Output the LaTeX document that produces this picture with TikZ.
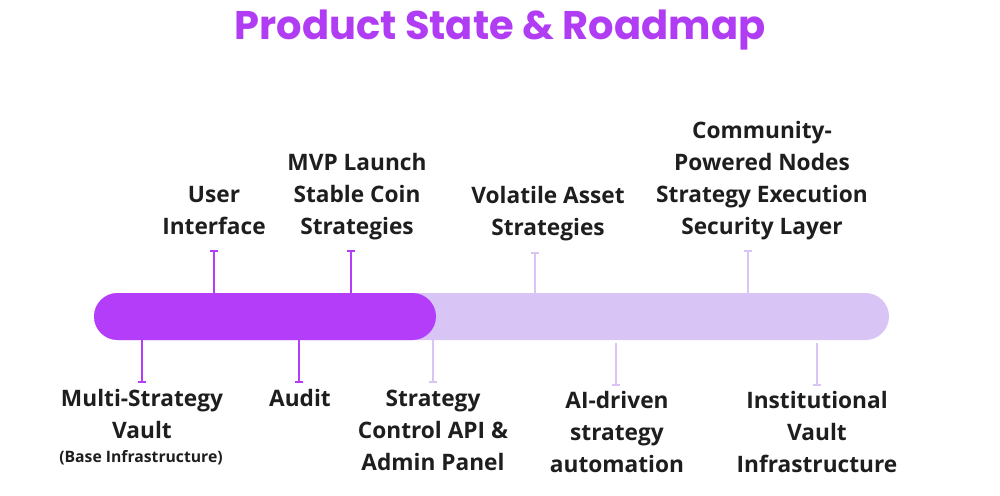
\documentclass[tikz,border=0pt]{standalone}
\usepackage{fontspec}
\setmainfont{Open Sans}
\newfontfamily\titlefont{Poppins}
\definecolor{darkbar}{HTML}{B43DF9}
\definecolor{lightbar}{HTML}{D9C4F6}
\definecolor{titlecol}{HTML}{B03CF3}
\definecolor{txt}{HTML}{1E1E1E}
\begin{document}
\begin{tikzpicture}[x=0.75pt,y=-0.75pt,
  lbl/.style={anchor=base,align=center,inner sep=0pt,text=txt,font=\fontsize{17}{24}\selectfont\bfseries},
  sub/.style={anchor=base,align=center,inner sep=0pt,text=txt,font=\fontsize{11.8}{14}\selectfont\bfseries},
  darktick/.style={draw=darkbar,line width=1.6pt},
  lighttick/.style={draw=lightbar,line width=1.6pt}]
\useasboundingbox (0,0) rectangle (1000,496);
% title
\node[anchor=base,inner sep=0pt,text=titlecol,font=\fontsize{30}{36}\selectfont\titlefont\bfseries] (title) at (500,39) {Product State \& Roadmap};
% bars
\fill[lightbar,rounded corners=23.5*0.75pt] (94,293) rectangle (889,340);
\fill[darkbar,rounded corners=23.5*0.75pt] (94,293) rectangle (436,340);
% tick coordinates
\coordinate (t1a) at (214,251); \coordinate (t1b) at (214,293);
\coordinate (t2a) at (351,251); \coordinate (t2b) at (351,293);
\coordinate (t3a) at (535,253); \coordinate (t3b) at (535,293);
\coordinate (t4a) at (748,251); \coordinate (t4b) at (748,293);
\coordinate (b1a) at (142,340); \coordinate (b1b) at (142,382);
\coordinate (b2a) at (299,340); \coordinate (b2b) at (299,382);
\coordinate (b3a) at (433,340); \coordinate (b3b) at (433,382);
\coordinate (b4a) at (616,343); \coordinate (b4b) at (616,385);
\coordinate (b5a) at (817,343); \coordinate (b5b) at (817,385);
\foreach \n/\s in {t1/darktick,t2/darktick,t3/lighttick,t4/lighttick}{
  \draw[\s] (\n a) -- (\n b);
  \draw[\s] ([xshift=-3pt]\n a) -- ([xshift=3pt]\n a);
}
\foreach \n/\s in {b1/darktick,b2/darktick,b3/lighttick,b4/lighttick,b5/lighttick}{
  \draw[\s] (\n a) -- (\n b);
  \draw[\s] ([xshift=-3pt]\n b) -- ([xshift=3pt]\n b);
}
% top labels (anchor = baseline of last line)
\node[lbl] (l1) at (214,234) {User\\Interface};
\node[lbl] (l2) at (357,234) {MVP Launch\\Stable Coin\\Strategies};
\node[lbl] (l3) at (548,235) {Volatile Asset\\Strategies};
\node[lbl] (l4) at (762,234) {Community-\\Powered Nodes\\Strategy Execution\\Security Layer};
% bottom labels
\node[lbl] (d1) at (142,438) {Multi-Strategy\\Vault};
\node[sub] (d1s) at (141,462) {(Base Infrastructure)};
\node[lbl] (d2) at (300,406) {Audit};
\node[lbl] (d3) at (433,470) {Strategy\\Control API \&\\Admin Panel};
\node[lbl] (d4) at (617,472) {AI-driven\\strategy\\automation};
\node[lbl] (d5) at (817,472) {Institutional\\Vault\\Infrastructure};
\end{tikzpicture}
\end{document}
